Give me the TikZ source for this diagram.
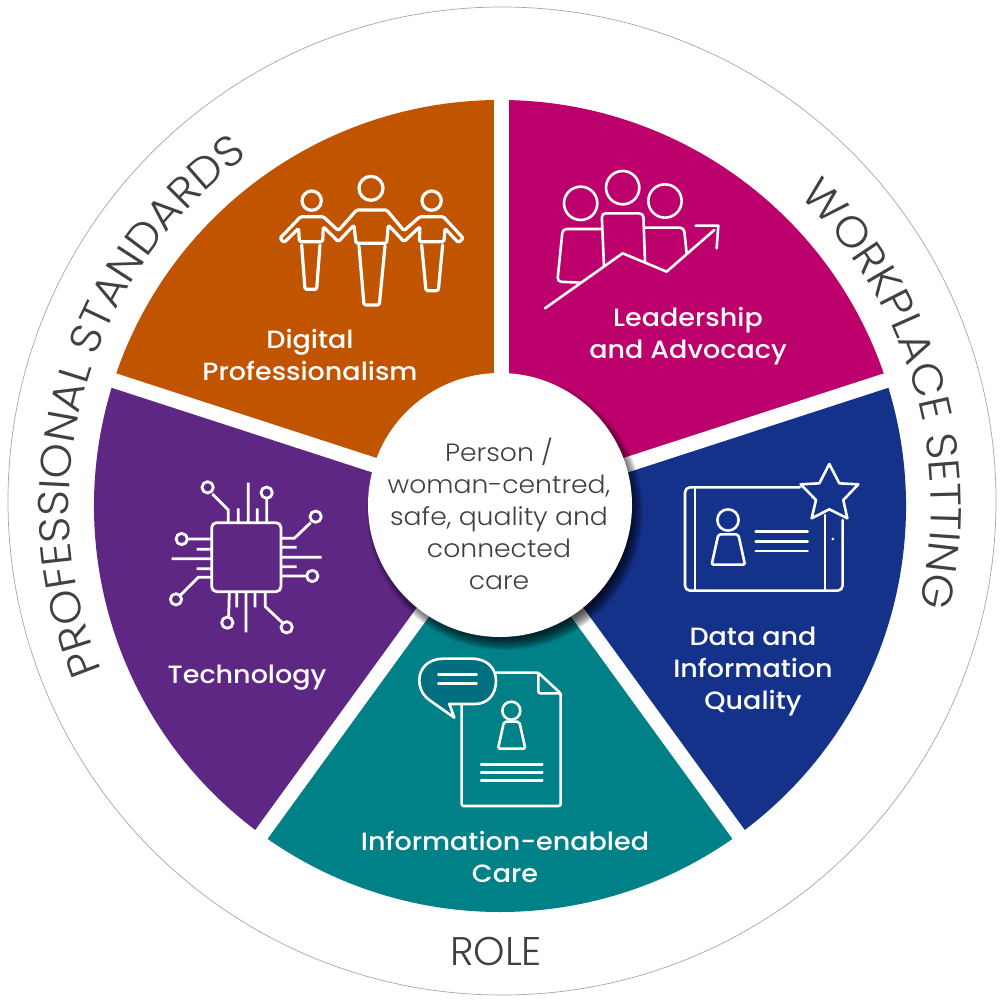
\documentclass[tikz,border=0pt]{standalone}
\usepackage{fontspec}
\usetikzlibrary{decorations.text}
\setmainfont{Poppins}
\newfontfamily\lightf{Poppins Light}
\newfontfamily\ringf{Poppins Light}[FakeStretch=1.05]
\newfontfamily\hubf{Poppins Light}[FakeStretch=1.065]
\newfontfamily\medf{Poppins Medium}[FakeStretch=1.08]
\definecolor{cOrange}{RGB}{192,84,0}
\definecolor{cMagenta}{RGB}{188,0,108}
\definecolor{cBlue}{RGB}{20,50,138}
\definecolor{cTeal}{RGB}{0,128,135}
\definecolor{cBubble}{RGB}{0,112,128}
\definecolor{cPurple}{RGB}{94,39,132}
\definecolor{cText}{RGB}{64,64,64}
\tikzset{
  ico/.style={draw=white,line width=3.2pt,line join=round,line cap=round},
  lbl/.style={text=white,align=center,font=\medf\fontsize{25}{32}\selectfont,inner sep=0pt},
  ctr/.style={text=cText,align=center,font=\hubf\fontsize{25}{32}\selectfont,inner sep=0pt},
  rolelbl/.style={text=cText,font=\lightf\fontsize{40}{40}\selectfont,inner sep=0pt,anchor=base},
}
\newcommand{\ringtext}[1]{|\ringf\fontsize{43}{43}\selectfont\color{cText}|#1}
\begin{document}
\begin{tikzpicture}[x=1pt,y=-1pt]
\useasboundingbox (0,0) rectangle (1006,1006);
\fill[white] (0,0) rectangle (1006,1006);
\draw[line width=.7pt,draw=black!35] (502,501) circle (494);
% wheel
\begin{scope}[shift={(500,506)},y=1pt]
  \fill[cOrange] (0,0) -- (90:406) arc (90:162:406) -- cycle;
  \fill[cMagenta] (0,0) -- (18:406) arc (18:90:406) -- cycle;
  \fill[cBlue] (0,0) -- (-54:406) arc (-54:18:406) -- cycle;
  \fill[cTeal] (0,0) -- (-126:406) arc (-126:-54:406) -- cycle;
  \fill[cPurple] (0,0) -- (162:406) arc (162:234:406) -- cycle;
  \foreach \a in {18,-54,-126,162}
    \draw[white,line width=15pt] (0,0) -- (\a:420);
  \draw[white,line width=15pt] (1.5,0) -- (1.5,420);
  \foreach \i in {0,...,11}
    \fill[black,opacity=.085] (5,-6) circle (138-\i*1.1);
  \fill[white] (0,1) circle (132);
  \path[decorate,decoration={text along path,text align=center,
     text={\ringtext{PROFESSIONAL STANDARDS}}}] (206.6:431) arc (206.6:121.6:431);
  \path[decorate,decoration={text along path,text align=center,
     text={\ringtext{WORKPLACE SETTING}}}] (50.3:431) arc (50.3:-17.7:431);
\end{scope}
\node[rolelbl] (role) at (496,965) {ROLE};
\node[ctr] (hub) at (499,514) {Person /\\woman-centred,\\safe, quality and\\connected\\care};
\node[lbl] (digital) at (310,355) {Digital\\Professionalism};
\node[lbl] (leader) at (688,336) {Leadership\\and Advocacy};
\node[lbl] (data) at (753,671) {Data and\\Information\\Quality};
\node[lbl] (care) at (505,857) {Information-enabled\\Care};
\node[lbl] (tech) at (247,678) {Technology};
% people icon
\begin{scope}[shift={(260,160)},x=.3333pt,y=-.3333pt,rounded corners=1.5pt]
  \draw[ico] (155,122) circle (29) (333,85) circle (36) (515,122) circle (29);
  \draw[ico] (290,150) -- (380,150) -- (432,212) -- (480,170) -- (550,170) -- (610,235) -- (595,248) -- (555,205) -- (552,245) -- (478,245) -- (480,200) -- (432,245) -- (385,195) -- (380,250) -- (288,250) -- (282,195) -- (235,245) -- (190,200) -- (188,245) -- (118,245) -- (116,205) -- (72,248) -- (60,235) -- (122,170) -- (190,170) -- (235,212) -- cycle;
  \draw[ico] (125,255) -- (135,388) -- (170,388) -- (180,255);
  \draw[ico] (297,258) -- (312,435) -- (358,435) -- (375,258);
  \draw[ico] (485,255) -- (498,392) -- (535,392) -- (548,255);
\end{scope}
% leadership icon
\begin{scope}[shift={(530,160)},x=.3333pt,y=-.3333pt]
  \draw[ico,line width=2.6pt] (152,130) circle (50) (278,83) circle (50) (405,123) circle (50);
  \draw[ico,line width=2.6pt,rounded corners=4pt] (212,207) -- (98,207) -- (82,365) -- (152,368);
  \draw[ico,line width=2.6pt,rounded corners=4pt] (222,318) -- (215,160) -- (340,160) -- (345,305);
  \draw[ico,line width=2.6pt,rounded corners=4pt] (345,203) -- (462,203) -- (470,280);
  \draw[ico,line width=2.6pt] (45,445) -- (278,280) -- (410,335) -- (553,210);
  \draw[ico,line width=2.6pt] (497,197) -- (565,197) -- (560,265);
\end{scope}
% data icon
\begin{scope}[shift={(660,450)},x=.3333pt,y=-.3333pt]
  \draw[ico,line width=2.6pt,rounded corners=5pt] (420,112) -- (75,112) -- (75,422) -- (548,422) -- (548,210);
  \draw[ico,line width=2.6pt] (105,112) -- (105,422) (495,195) -- (495,422);
  \fill[white] (519,267) circle (4.5);
  \draw[ico,line width=2.6pt] (508,42) -- (538,100) -- (595,103) -- (550,150) -- (562,205) -- (508,178) -- (455,205) -- (468,150) -- (422,103) -- (478,100) -- cycle;
  \draw[ico,line width=2.6pt] (204,210) circle (32);
  \draw[ico,line width=2.6pt,rounded corners=2pt] (175,253) -- (235,253) -- (255,344) -- (155,344) -- cycle;
  \draw[ico,line width=2.6pt] (287,245) -- (443,245) (287,274) -- (443,274) (287,303) -- (443,303);
\end{scope}
% care icon
\begin{scope}[shift={(400,640)},x=.3333pt,y=-.3333pt]
  \draw[ico,line width=2.6pt,rounded corners=2pt] (185,197) -- (185,498) -- (482,498) -- (482,160) -- (415,98) -- (288,98);
  \draw[ico,line width=2.6pt,rounded corners=2pt] (415,98) -- (415,160) -- (482,160);
  \draw[ico,line width=2.6pt,fill=cBubble] (130,56) -- (215,56) .. controls (262,56) and (288,85) .. (288,122) .. controls (288,165) and (262,192) .. (225,192) -- (148,192) -- (163,233) -- (95,185) .. controls (72,170) and (58,150) .. (58,120) .. controls (58,85) and (85,56) .. (130,56) -- cycle;
  \draw[ico,line width=2.6pt] (115,103) -- (230,103) (115,130) -- (230,130);
  \draw[ico,line width=2.6pt] (334,212) circle (27);
  \draw[ico,line width=2.6pt,rounded corners=2pt] (312,245) -- (358,245) -- (376,326) -- (294,326) -- cycle;
  \draw[ico,line width=2.6pt] (243,373) -- (427,373) (243,397) -- (427,397) (243,421) -- (427,421);
\end{scope}
% chip icon
\begin{scope}[shift={(160,470)},x=.3333pt,y=-.3333pt]
  \draw[ico,line width=2.8pt,rounded corners=5pt] (155,158) rectangle (363,365);
  \draw[ico,line width=2.8pt,line cap=butt]
    (265,38) -- (265,158) (235,115) -- (235,158) (292,115) -- (292,158) (320,85) -- (320,158)
    (205,158) -- (205,120) -- (157,72)
    (363,205) -- (403,205) -- (452,158) (363,232) -- (410,232) (363,262) -- (485,262) (363,290) -- (410,290) (363,318) -- (440,318)
    (155,207) -- (83,207) (155,238) -- (110,238) (155,266) -- (35,266) (155,296) -- (110,296) (155,322) -- (115,322) -- (62,375)
    (208,365) -- (206,440) (230,365) -- (230,412) (258,365) -- (258,487) (285,365) -- (285,412) (316,365) -- (316,410) -- (367,458);
  \draw[ico,line width=2.8pt] (143,52) circle (17) (320,68) circle (17) (467,140) circle (17) (457,318) circle (17) (65,207) circle (17) (48,388) circle (17) (202,458) circle (17) (380,472) circle (17);
\end{scope}
\end{tikzpicture}
\end{document}
